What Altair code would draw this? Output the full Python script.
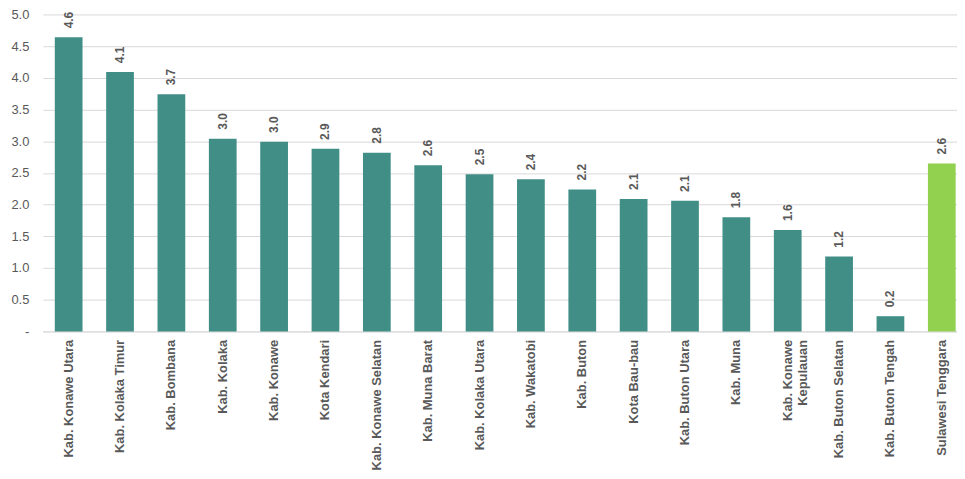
import altair as alt
import pandas as pd

regions = [
    "Kab. Konawe Utara", "Kab. Kolaka Timur", "Kab. Bombana", "Kab. Kolaka",
    "Kab. Konawe", "Kota Kendari", "Kab. Konawe Selatan", "Kab. Muna Barat",
    "Kab. Kolaka Utara", "Kab. Wakatobi", "Kab. Buton", "Kota Bau-bau",
    "Kab. Buton Utara", "Kab. Muna", "Kab. Konawe|Kepulauan", "Kab. Buton Selatan",
    "Kab. Buton Tengah", "Sulawesi Tenggara",
]
values = [4.64, 4.09, 3.74, 3.04, 2.99, 2.88, 2.82, 2.62, 2.48, 2.40,
          2.24, 2.09, 2.06, 1.80, 1.60, 1.18, 0.24, 2.65]
groups = ["kab"] * 17 + ["prov"]
y_ticks = [0.0, 0.5, 1.0, 1.5, 2.0, 2.5, 3.0, 3.5, 4.0, 4.5, 5.0]

df = pd.DataFrame({"region": regions, "value": values, "group": groups})

x = alt.X(
    "region:N", sort=regions, title=None,
    scale=alt.Scale(paddingInner=0.46, paddingOuter=0.13, align=0.9),
    axis=alt.Axis(
        labelAngle=270, labelAlign="right", labelBaseline="middle",
        labelExpr="split(datum.label, '|')",
        labelFont="Liberation Sans", labelFontSize=13, labelFontWeight="bold",
        labelColor="#595959", labelPadding=8, ticks=False,
        domainColor="#D9D9D9", domainWidth=1, labelLimit=300,
    ),
)

y = alt.Y(
    "value:Q", title=None,
    scale=alt.Scale(domain=[0, 5], nice=False),
    axis=alt.Axis(
        values=y_ticks, grid=True, gridColor="#D9D9D9", domain=False,
        ticks=False, labelPadding=14, labelFont="Liberation Sans",
        labelFontSize=13, labelColor="#595959", labelOverlap=False,
        labelExpr="datum.value == 0 ? '-' : format(datum.value, '.1f')",
    ),
)

bars = alt.Chart(df).mark_bar().encode(
    x=x,
    y=y,
    color=alt.Color(
        "group:N", legend=None,
        scale=alt.Scale(domain=["kab", "prov"], range=["#408E86", "#92D050"]),
    ),
)

labels = alt.Chart(df).mark_text(
    angle=270, align="left", baseline="middle", yOffset=-9,
    font="Liberation Sans", fontSize=12, fontWeight="bold", color="#595959",
).encode(
    x=x,
    y=y,
    text=alt.Text("value:Q", format=".1f"),
)

chart = (bars + labels).properties(
    width=920, height=319,
    autosize=alt.AutoSizeParams(type="none"),
    padding={"left": 35, "top": 5, "right": 0, "bottom": 140},
).configure_view(stroke=None)

chart.save("out.html", embed_options={"renderer": "svg", "actions": False})
